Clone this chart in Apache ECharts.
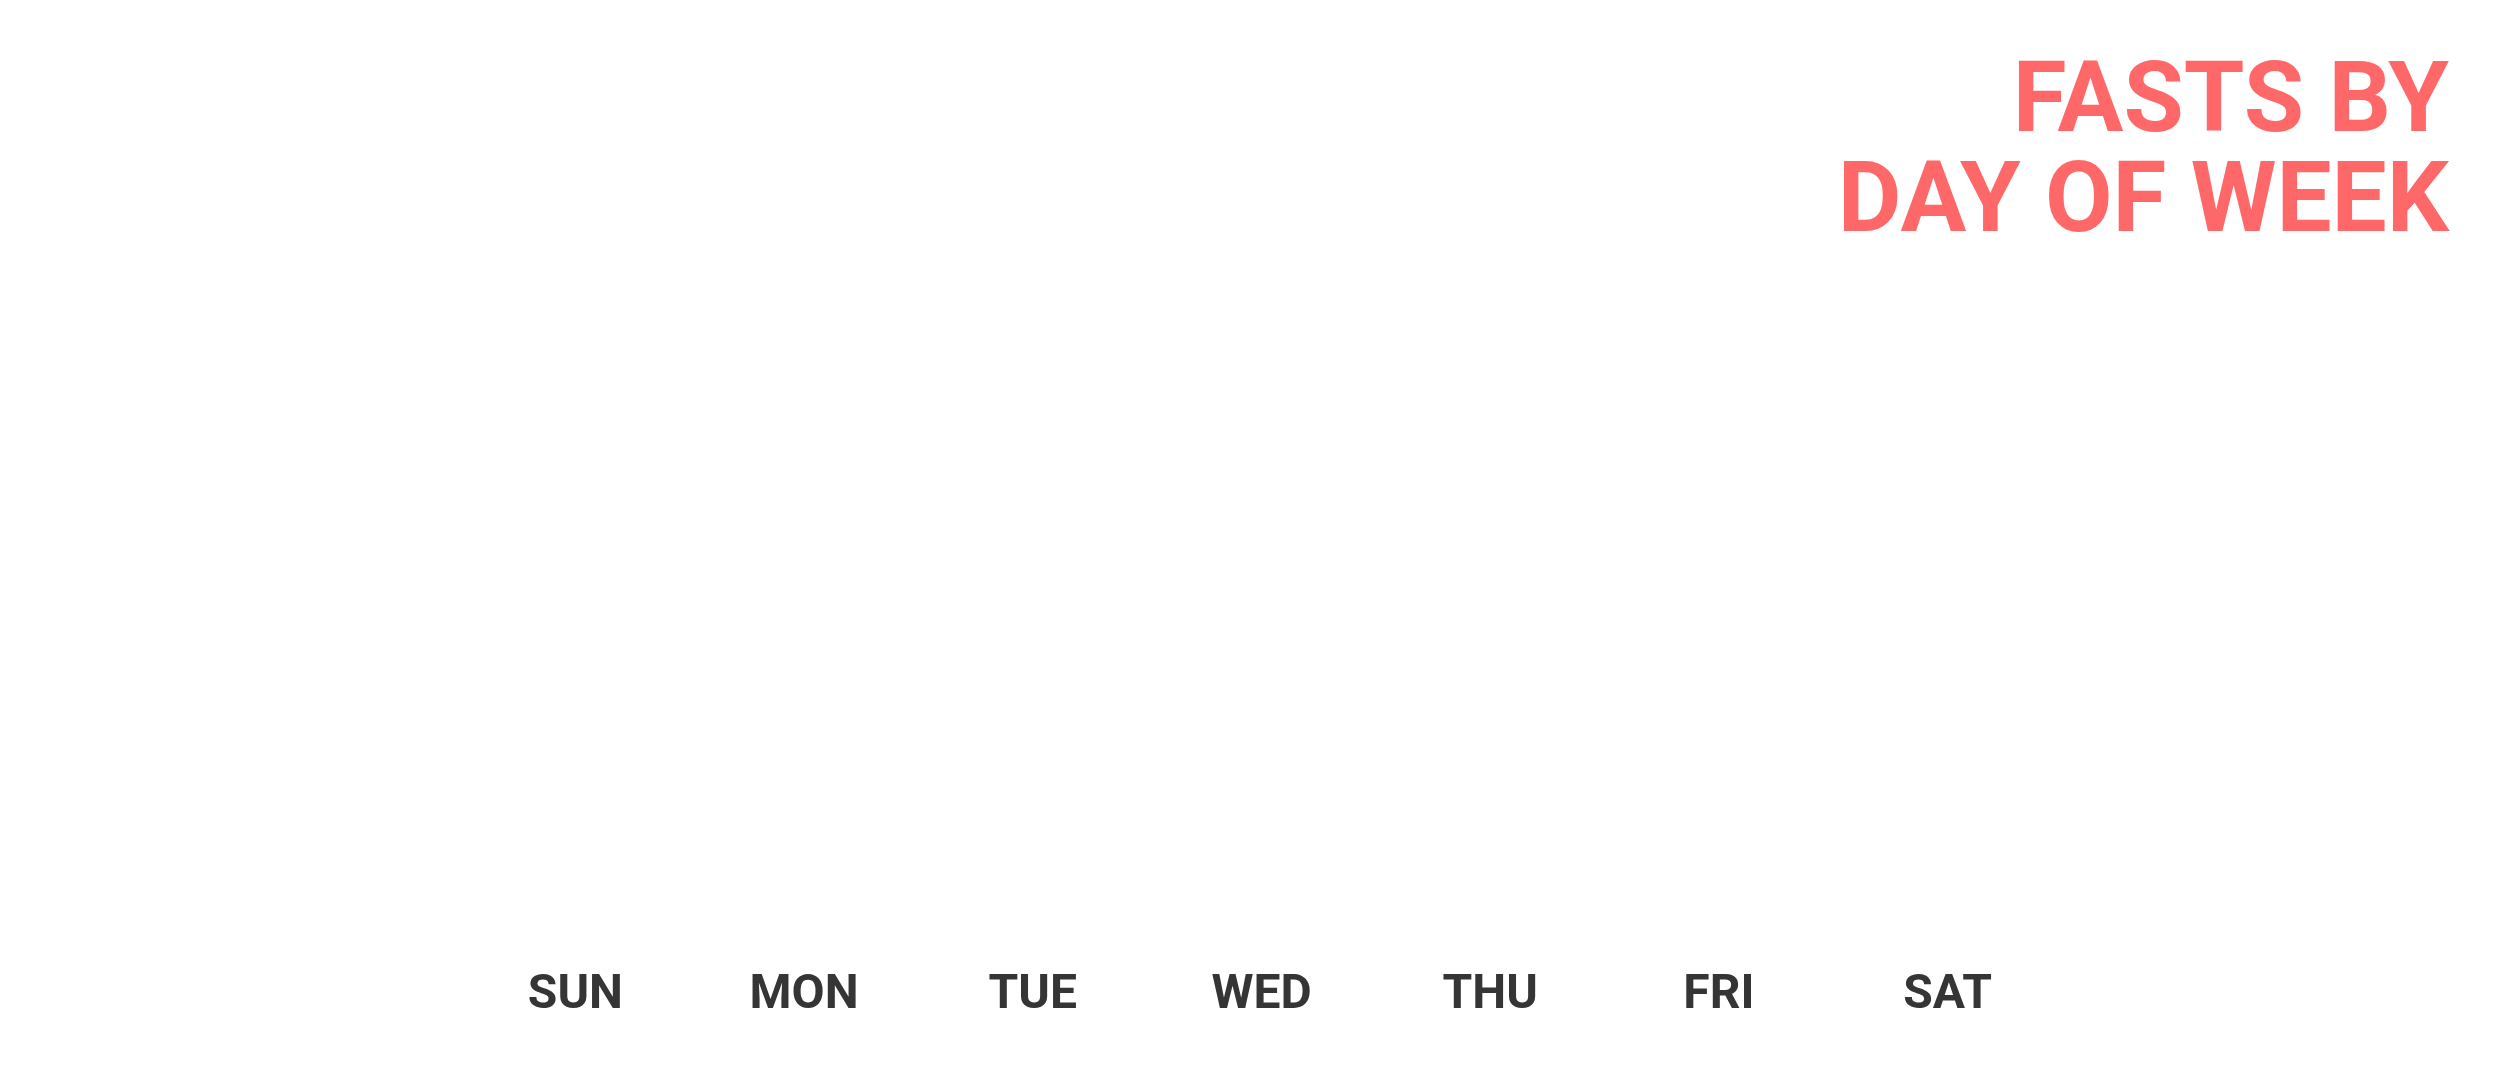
<!DOCTYPE html>
<html>
<head>
<meta charset="utf-8">
<script src="https://cdn.jsdelivr.net/npm/echarts@6/dist/echarts.min.js"></script>
<style>
html,body{margin:0;padding:0;background:#ffffff;}
#chart{width:2500px;height:1080px;}
</style>
</head>
<body>
<div id="chart"></div>
<script>
const titleLines = ['FASTS BY', 'DAY OF WEEK'];
const days = ['SUN', 'MON', 'TUE', 'WED', 'THU', 'FRI', 'SAT'];
const fastCounts = [0, 0, 0, 0, 0, 0, 0];

const chart = echarts.init(document.getElementById('chart'));
chart.setOption({
  backgroundColor: '#ffffff',
  animation: false,
  title: {
    text: titleLines.join('\n'),
    left: 2444,
    top: 51,
    textAlign: 'right',
    textStyle: {
      color: '#ff6868',
      fontFamily: 'Roboto',
      fontWeight: 'bold',
      fontSize: 98,
      lineHeight: 100
    }
  },
  grid: { left: 461, right: 438, top: 200, bottom: 122 },
  xAxis: {
    type: 'category',
    data: days,
    axisLine: { show: false },
    axisTick: { show: false },
    axisLabel: {
      color: '#353535',
      fontFamily: 'Roboto',
      fontWeight: 'bold',
      fontSize: 48,
      margin: 14
    }
  },
  yAxis: {
    type: 'value',
    min: 0,
    max: 10,
    show: false,
    splitLine: { show: false }
  },
  series: [{
    type: 'bar',
    data: fastCounts,
    barWidth: '60%',
    itemStyle: { color: '#ff6868' }
  }]
});
</script>
</body>
</html>
